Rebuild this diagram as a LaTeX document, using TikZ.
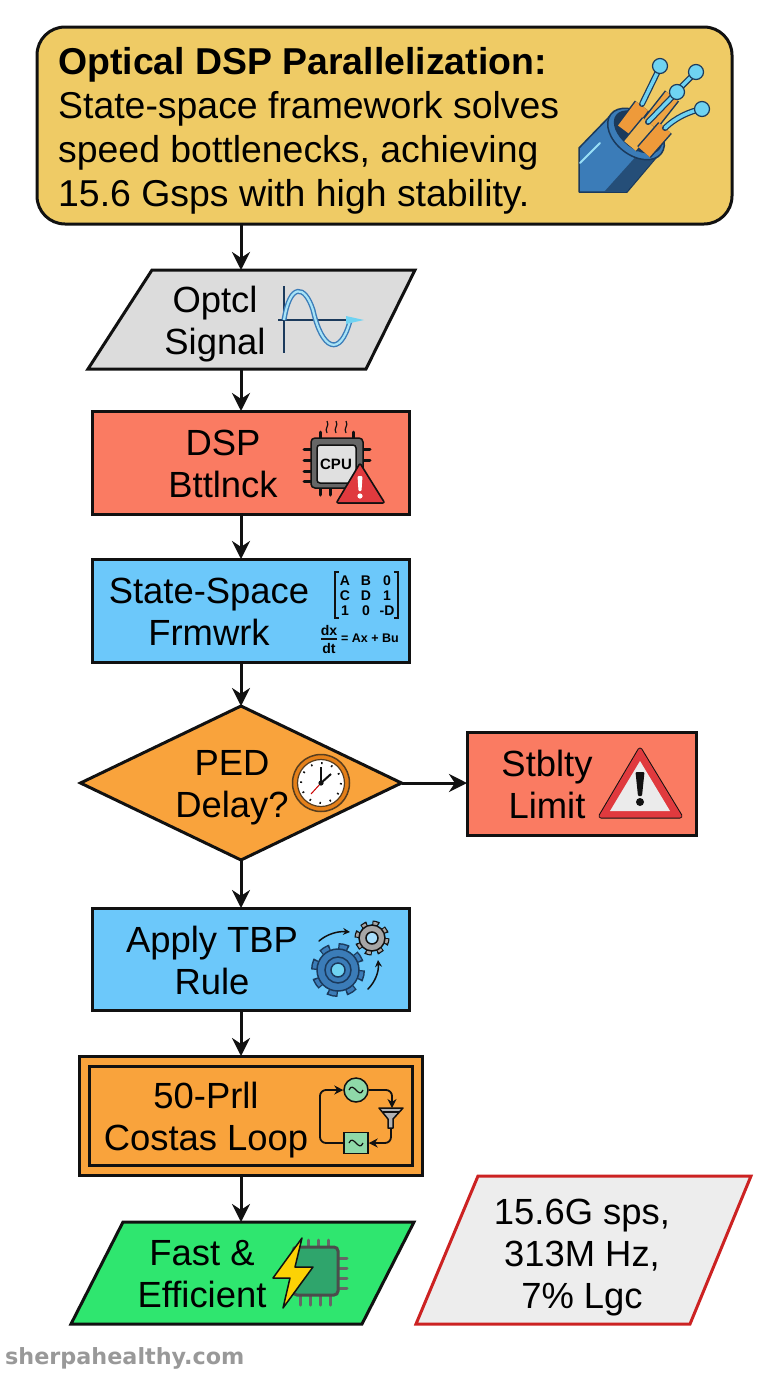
\documentclass[tikz,border=0pt]{standalone}
\usepackage{fontspec}
\setmainfont{Liberation Sans}
\newfontfamily\markfont{DejaVu Sans}
\usetikzlibrary{arrows.meta,shapes.geometric}
\definecolor{inkline}{HTML}{111111}
\definecolor{titlefill}{HTML}{EFCB65}
\definecolor{greyfill}{HTML}{DCDCDC}
\definecolor{redfill}{HTML}{FA7B62}
\definecolor{bluefill}{HTML}{6CC8FA}
\definecolor{orangefill}{HTML}{F9A33C}
\definecolor{greenfill}{HTML}{2FE66F}
\definecolor{cablblue}{HTML}{3B7CB8}
\definecolor{navyline}{HTML}{1B3A5C}
\definecolor{wirecyan}{HTML}{6FD3F2}
\definecolor{cordorange}{HTML}{EE9A3A}
\definecolor{warnred}{HTML}{E03A3E}
\definecolor{mintfill}{HTML}{8FD9A8}
\definecolor{chipgreen}{HTML}{2FA56C}
\definecolor{numred}{HTML}{CC2222}
\definecolor{pintan}{HTML}{E8C98A}
\tikzset{
	flowbox/.style={draw=inkline, line width=3pt, inner sep=0pt, outer sep=0pt},
	anchorbox/.style={inner sep=0pt, outer sep=0pt, minimum width=10pt},
	flowarrow/.style={draw=inkline, line width=3pt, -{Stealth[length=18pt,width=18pt]}},
	flowtext/.style={align=center, inner sep=0pt, font=\fontsize{36.4}{42}\selectfont},
	icontext/.style={inner sep=0pt, font=\fontsize{14}{14}\selectfont\bfseries},
	iconline/.style={draw=navyline, line width=1.5pt, line cap=round, line join=round},
	pinline/.style={draw=inkline, line width=3pt, line cap=round}
}
\begin{document}
\begin{tikzpicture}[x=1pt, y=-1pt]
	\useasboundingbox (0,0) rectangle (768,1376);

	% title
	\node [flowbox, fill=titlefill, rounded corners=28pt, minimum width=695pt, minimum height=197pt] (title) at ( 384.5, 125.5 ) {};
	\node [anchor=west, align=left, inner sep=0pt, font=\fontsize{37.4}{44}\selectfont] (titletxt) at ( 58, 131 ) {\textbf{Optical DSP Parallelization:}\\State-space framework solves\\speed bottlenecks, achieving\\15.6 Gsps with high stability.};

	% cable
	\draw [iconline, fill=cablblue] ( 579, 148 ) -- ( 610, 116 ) -- ( 660, 153 ) -- ( 627, 192 ) -- ( 579, 192 ) -- cycle;
	\fill [navyline!70!cablblue] ( 604, 192 ) -- ( 640, 152 ) -- ( 658, 155 ) -- ( 627, 191 ) -- cycle;
	\draw [wirecyan!70!white, line width=2pt, line cap=round] ( 580, 163 ) -- ( 600, 143 );
	\draw [iconline, fill=cablblue] ( 636, 134 ) ellipse [x radius=32, y radius=21, rotate=-38];
	\draw [iconline, fill=navyline] ( 638, 132 ) ellipse [x radius=27, y radius=16, rotate=-38];
	\draw [navyline, line width=18pt] ( 650, 124 ) -- ( 672, 96 );
	\draw [cordorange!80!titlefill, line width=15pt] ( 650, 124 ) -- ( 672, 96 );
	\draw [navyline, line width=18pt] ( 624, 130 ) -- ( 642, 106 );
	\draw [cordorange, line width=15pt] ( 624, 130 ) -- ( 642, 106 );
	\draw [navyline, line width=18pt] ( 630, 146 ) -- ( 649, 123 );
	\draw [titlefill!50!cordorange, line width=15pt] ( 630, 146 ) -- ( 649, 123 );
	\draw [navyline, line width=18pt] ( 644, 152 ) -- ( 665, 128 );
	\draw [cordorange, line width=15pt] ( 644, 152 ) -- ( 665, 128 );
	\draw [navyline, line width=6pt, line cap=round] ( 642, 104 ) -- ( 660, 67 );
	\draw [wirecyan, line width=3.5pt, line cap=round] ( 642, 104 ) -- ( 660, 67 );
	\draw [navyline, line width=6pt, line cap=round] ( 673, 95 ) -- ( 696, 72 );
	\draw [wirecyan, line width=3.5pt, line cap=round] ( 673, 95 ) -- ( 696, 72 );
	\draw [navyline, line width=6pt, line cap=round] ( 648, 122 ) -- ( 677, 92 );
	\draw [wirecyan, line width=3.5pt, line cap=round] ( 648, 122 ) -- ( 677, 92 );
	\draw [navyline, line width=6pt, line cap=round] ( 665, 128 ) .. controls ( 675, 118 ) and ( 690, 111 ) .. ( 702, 109 );
	\draw [wirecyan, line width=3.5pt, line cap=round] ( 665, 128 ) .. controls ( 675, 118 ) and ( 690, 111 ) .. ( 702, 109 );
	\draw [navyline, line width=1.2pt, fill=wirecyan] ( 660, 66 ) circle ( 7.5 );
	\draw [navyline, line width=1.2pt, fill=wirecyan] ( 696, 72 ) circle ( 7.5 );
	\draw [navyline, line width=1.2pt, fill=wirecyan] ( 677, 92 ) circle ( 7.5 );
	\draw [navyline, line width=1.2pt, fill=wirecyan] ( 702, 109 ) circle ( 7.5 );

	% optical signal
	\draw [flowbox, fill=greyfill] ( 152, 270 ) -- ( 415, 270 ) -- ( 366, 369 ) -- ( 88, 369 ) -- cycle;
	\node [anchorbox, minimum height=99pt] (sig) at ( 241, 319.5 ) {};
	\node [flowtext] (sigtxt) at ( 215, 324 ) {Optcl\\Signal};
	\draw [navyline, line width=1.5pt] ( 284, 286 ) -- ( 284, 353 );
	\draw [navyline, line width=1.5pt] ( 278, 320 ) -- ( 350, 320 );
	\draw [cablblue, line width=5pt] ( 284, 320 ) .. controls ( 290, 282 ) and ( 305, 285 ) .. ( 313, 310 ) .. controls ( 322, 350 ) and ( 340, 358 ) .. ( 350, 321 );
	\draw [wirecyan!60!white, line width=2.2pt] ( 284, 320 ) .. controls ( 290, 282 ) and ( 305, 285 ) .. ( 313, 310 ) .. controls ( 322, 350 ) and ( 340, 358 ) .. ( 350, 321 );
	\fill [wirecyan] ( 346, 316 ) -- ( 364, 320 ) -- ( 346, 324 ) -- cycle;

	% bottleneck
	\node [flowbox, fill=redfill, minimum width=317pt, minimum height=103pt] (dsp) at ( 250.5, 462.5 ) {};
	\node [flowtext] (dsptxt) at ( 223, 464 ) {DSP\\Bttlnck};
	\draw [inkline, line width=1.2pt] ( 327, 433 ) .. controls ( 324, 428 ) and ( 330, 426 ) .. ( 327, 421 );
	\draw [inkline, line width=1.2pt] ( 336, 433 ) .. controls ( 333, 428 ) and ( 339, 426 ) .. ( 336, 421 );
	\draw [inkline, line width=1.2pt] ( 346, 433 ) .. controls ( 343, 428 ) and ( 349, 426 ) .. ( 346, 421 );
	\draw [pinline] ( 320, 432 ) -- ( 320, 438 );
	\draw [pinline] ( 353, 432 ) -- ( 353, 438 );
	\draw [pinline] ( 304, 449 ) -- ( 311, 449 );
	\draw [pinline] ( 304, 460 ) -- ( 311, 460 );
	\draw [pinline] ( 304, 471 ) -- ( 311, 471 );
	\draw [pinline] ( 304, 481 ) -- ( 311, 481 );
	\draw [pinline] ( 363, 449 ) -- ( 370, 449 );
	\draw [pinline] ( 363, 460 ) -- ( 370, 460 );
	\draw [pinline] ( 320, 488 ) -- ( 320, 495 );
	\draw [pinline] ( 330, 488 ) -- ( 330, 495 );
	\draw [inkline, line width=1.5pt, fill=black!60, rounded corners=4pt] ( 311, 438 ) rectangle ( 363, 488 );
	\draw [inkline, line width=1.5pt, fill=black!12, rounded corners=3pt] ( 317, 445 ) rectangle ( 356, 483 );
	\node [inner sep=0pt, font=\fontsize{15}{15}\selectfont\bfseries] (cpu) at ( 336, 464 ) {CPU};
	\draw [inkline, line width=3.5pt, line join=round, fill=warnred] ( 360, 465 ) -- ( 383, 502 ) -- ( 338, 502 ) -- cycle;
	\fill [warnred] ( 360, 465 ) -- ( 383, 502 ) -- ( 338, 502 ) -- cycle;
	\fill [white, rounded corners=1pt] ( 357.5, 476 ) -- ( 362.5, 476 ) -- ( 361.5, 491 ) -- ( 358.5, 491 ) -- cycle;
	\fill [white] ( 360, 496 ) circle ( 2.6 );

	% state space
	\node [flowbox, fill=bluefill, minimum width=317pt, minimum height=103pt] (space) at ( 250.5, 610.5 ) {};
	\node [flowtext] (spacetxt) at ( 209, 612 ) {State-Space\\Frmwrk};
	\draw [inkline, line width=1.5pt] ( 339, 572 ) -- ( 335, 572 ) -- ( 335, 618 ) -- ( 339, 618 );
	\draw [inkline, line width=1.5pt] ( 394, 572 ) -- ( 398, 572 ) -- ( 398, 618 ) -- ( 394, 618 );
	\node [icontext] (m11) at ( 345, 581 ) {A};
	\node [icontext] (m12) at ( 366, 581 ) {B};
	\node [icontext] (m13) at ( 387, 581 ) {0};
	\node [icontext] (m21) at ( 345, 596 ) {C};
	\node [icontext] (m22) at ( 366, 596 ) {D};
	\node [icontext] (m23) at ( 387, 596 ) {1};
	\node [icontext] (m31) at ( 345, 611 ) {1};
	\node [icontext] (m32) at ( 366, 611 ) {0};
	\node [icontext] (m33) at ( 387, 611 ) {-D};
	\node [icontext] (dx) at ( 329, 630 ) {dx};
	\node [icontext] (dt) at ( 329, 648 ) {dt};
	\draw [inkline, line width=1.2pt] ( 321, 639 ) -- ( 337, 639 );
	\node [icontext, font=\fontsize{12.5}{13}\selectfont\bfseries, anchor=west] (ode) at ( 341, 638 ) {= Ax + Bu};

	% delay check
	\node [flowbox, diamond, aspect=2.08, fill=orangefill, minimum width=321pt, minimum height=154pt] (ped) at ( 241, 783 ) {};
	\node [flowtext] (pedtxt) at ( 232, 788 ) {PED\\Delay?};
	\draw [inkline!70!orangefill, line width=1.5pt, fill=orange!60!brown] ( 321, 783 ) circle ( 28.5 );
	\draw [inkline!70!orangefill, line width=1.2pt, fill=white] ( 321, 783 ) circle ( 23.5 );
	\draw [inkline, line width=2pt, dash pattern=on 1.5pt off 8.97pt] ( 321, 783 ) circle ( 20 );
	\draw [red!80!black, line width=1pt] ( 321, 783 ) -- ( 311, 794 );
	\draw [inkline, line width=2pt] ( 321, 783 ) -- ( 321, 767 );
	\draw [inkline, line width=2pt] ( 321, 783 ) -- ( 331, 774 );
	\fill [inkline] ( 321, 783 ) circle ( 2.6 );

	% stability limit
	\node [flowbox, fill=redfill, minimum width=229pt, minimum height=103pt] (limit) at ( 581.5, 783.5 ) {};
	\node [flowtext] (limittxt) at ( 547, 784 ) {Stblty\\Limit};
	\draw [inkline, line width=5pt, line join=round] ( 640, 750 ) -- ( 680, 816 ) -- ( 601, 816 ) -- cycle;
	\draw [warnred, line width=3pt, line join=round] ( 640, 750 ) -- ( 680, 816 ) -- ( 601, 816 ) -- cycle;
	\fill [warnred] ( 640, 750 ) -- ( 680, 816 ) -- ( 601, 816 ) -- cycle;
	\fill [white!92!black] ( 640, 761 ) -- ( 670, 811 ) -- ( 610, 811 ) -- cycle;
	\fill [inkline, rounded corners=1pt] ( 635.5, 772 ) -- ( 644.5, 772 ) -- ( 642, 796 ) -- ( 638, 796 ) -- cycle;
	\fill [inkline] ( 640, 802 ) circle ( 4 );

	% rule
	\node [flowbox, fill=bluefill, minimum width=317pt, minimum height=102pt] (rule) at ( 250.5, 959 ) {};
	\node [flowtext] (ruletxt) at ( 212, 960 ) {Apply TBP\\Rule};
	\draw [navyline, line width=10pt, dash pattern=on 9.5pt off 7.78pt] ( 338, 970 ) circle ( 22 );
	\draw [cablblue, line width=7pt, dash pattern=on 7pt off 10.28pt, dash phase=-1.25pt] ( 338, 970 ) circle ( 22 );
	\draw [navyline, line width=1.5pt, fill=cablblue] ( 338, 970 ) circle ( 21 );
	\draw [navyline, line width=1.5pt] ( 338, 970 ) circle ( 13 );
	\draw [navyline, line width=1.5pt, fill=wirecyan] ( 338, 970 ) circle ( 7 );
	\draw [inkline, line width=7pt, dash pattern=on 6pt off 5pt] ( 372, 938 ) circle ( 14 );
	\draw [black!35, line width=4.5pt, dash pattern=on 4pt off 7pt, dash phase=-1pt] ( 372, 938 ) circle ( 14 );
	\draw [inkline, line width=1.5pt, fill=black!35] ( 372, 938 ) circle ( 13 );
	\draw [inkline, line width=1.5pt, fill=bluefill!60!white] ( 372, 938 ) circle ( 6 );
	\draw [inkline, line width=1.5pt, line cap=round, -{Stealth[length=7pt,width=7pt]}] ( 319, 941 ) .. controls ( 327, 934 ) and ( 338, 931 ) .. ( 350, 932 );
	\draw [inkline, line width=1.5pt, line cap=round, -{Stealth[length=7pt,width=7pt]}] ( 368, 989 ) .. controls ( 375, 982 ) and ( 379, 972 ) .. ( 378, 960 );

	% costas loop
	\node [flowbox, fill=orangefill, minimum width=343pt, minimum height=119pt] (costas) at ( 250.5, 1115.5 ) {};
	\node [flowbox, minimum width=323pt, minimum height=99pt] (costasin) at ( 250.5, 1115.5 ) {};
	\node [flowtext] (costastxt) at ( 206, 1120 ) {50-Prll\\Costas Loop};
	\node [draw=inkline, line width=1.5pt, circle, fill=mintfill, minimum size=24pt, inner sep=0pt] (osc) at ( 356, 1090 ) {};
	\node [draw=inkline, line width=1.5pt, fill=mintfill, minimum width=24pt, minimum height=21pt, inner sep=0pt] (mix) at ( 356, 1143 ) {};
	\draw [inkline, line width=1.5pt, line join=round, fill=black!30] ( 379, 1108 ) -- ( 403, 1108 ) -- ( 393, 1119 ) -- ( 393, 1128 ) -- ( 388, 1128 ) -- ( 388, 1119 ) -- cycle;
	\draw [inkline, line width=1.2pt] ( 383, 1112 ) -- ( 399, 1112 );
	\draw [inkline, line width=1.2pt] ( 349, 1090 ) .. controls ( 353, 1080 ) and ( 359, 1100 ) .. ( 363, 1090 );
	\draw [inkline, line width=1.2pt] ( 349, 1143 ) .. controls ( 353, 1133 ) and ( 359, 1153 ) .. ( 363, 1143 );
	\draw [inkline, line width=1.8pt, rounded corners=6pt, -{Stealth[length=9pt,width=9pt]}] (osc.east) -- ( 392, 1090 ) -- ( 392, 1108 );
	\draw [inkline, line width=1.8pt, rounded corners=6pt, -{Stealth[length=9pt,width=9pt]}] ( 391, 1128 ) -- ( 391, 1143 ) -- (mix.east);
	\draw [inkline, line width=1.8pt, rounded corners=6pt, -{Stealth[length=9pt,width=9pt]}] (mix.west) -- ( 320, 1143 ) -- ( 320, 1090 ) -- (osc.west);

	% result
	\draw [flowbox, fill=greenfill] ( 123, 1222 ) -- ( 414, 1222 ) -- ( 362, 1324 ) -- ( 71, 1324 ) -- cycle;
	\node [anchorbox, minimum height=102pt] (fast) at ( 241, 1273 ) {};
	\node [flowtext] (fasttxt) at ( 202, 1274 ) {Fast \&\\Efficient};
	\draw [pinline, black!60] ( 308, 1240 ) -- ( 308, 1247 );
	\draw [pinline, black!60] ( 318, 1240 ) -- ( 318, 1247 );
	\draw [pinline, black!60] ( 328, 1240 ) -- ( 328, 1247 );
	\draw [pinline, black!60] ( 338, 1258 ) -- ( 347, 1258 );
	\draw [pinline, black!60] ( 338, 1268 ) -- ( 347, 1268 );
	\draw [pinline, black!60] ( 338, 1278 ) -- ( 347, 1278 );
	\draw [pinline, black!60] ( 338, 1288 ) -- ( 347, 1288 );
	\draw [pinline, black!60] ( 300, 1295 ) -- ( 300, 1305 );
	\draw [pinline, black!60] ( 310, 1295 ) -- ( 310, 1305 );
	\draw [pinline, black!60] ( 320, 1295 ) -- ( 320, 1305 );
	\draw [pinline, black!60] ( 330, 1295 ) -- ( 330, 1305 );
	\draw [black!70, line width=3pt, fill=chipgreen, rounded corners=4pt] ( 293, 1247 ) rectangle ( 338, 1295 );
	\draw [inkline, line width=1.5pt, line join=round, fill=yellow!70!orange] ( 302, 1238 ) -- ( 273, 1278 ) -- ( 290, 1278 ) -- ( 283, 1308 ) -- ( 313, 1267 ) -- ( 295, 1267 ) -- cycle;

	% numbers
	\draw [flowbox, draw=numred, fill=black!7] ( 478, 1176 ) -- ( 751, 1176 ) -- ( 690, 1324 ) -- ( 416, 1324 ) -- cycle;
	\node [flowtext] (numtxt) at ( 582, 1258 ) {15.6G sps,\\313M Hz,\\7\% Lgc};

	% site mark
	\node [anchor=west, inner sep=0pt, text=black!40, font=\markfont\bfseries\fontsize{22.3}{26}\selectfont] (site) at ( 5, 1358 ) {sherpahealthy.com};

	% arrows
	\draw [flowarrow] (title.south -| sig.north) -- (sig.north);
	\draw [flowarrow] (sig.south) -- (sig.south |- dsp.north);
	\draw [flowarrow] (sig.south |- dsp.south) -- (sig.south |- space.north);
	\draw [flowarrow] (sig.south |- space.south) -- (ped.north);
	\draw [flowarrow] (ped.east) -- (limit.west |- ped.east);
	\draw [flowarrow] (ped.south) -- (sig.south |- rule.north);
	\draw [flowarrow] (sig.south |- rule.south) -- (sig.south |- costas.north);
	\draw [flowarrow] (sig.south |- costas.south) -- (fast.north);
\end{tikzpicture}
\end{document}
